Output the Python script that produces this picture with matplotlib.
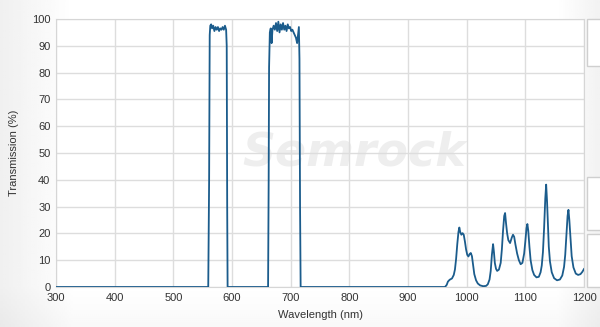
import numpy as np
import matplotlib.pyplot as plt
from matplotlib.patches import Rectangle

plt.rcParams['font.family'] = ['Liberation Sans', 'DejaVu Sans']

# transmission spectrum (nm, %)
band1_nm = [559.5, 561, 562, 563, 564.5, 566, 568, 570, 572, 574, 576, 578,
            580, 582, 584, 586, 588, 590, 591, 591.8, 592.5]
band1_t = [0, 40, 94, 97.5, 98, 96.5, 97.5, 95.5, 97, 96, 97, 95.5,
           96.5, 96, 97, 96, 97.5, 96, 90, 30, 0]

band2_nm = [661.5, 662.5, 663.2, 664.5, 666, 667.5, 669, 671, 673, 675, 677,
            679, 681, 683, 685, 687, 689, 691, 693, 695, 697, 699, 701, 703,
            705, 707, 709, 711, 712.5, 714, 715, 716, 717]
band2_t = [0, 40, 82, 95, 96.5, 91, 96, 97.5, 96, 98.5, 95.5,
           99, 95, 98, 96, 98.5, 96, 97.5, 95.5, 98, 96.5, 97, 95.5, 96,
           95, 94, 93, 91, 94, 97, 85, 30, 0]

ir_nm = [963, 966, 968, 971, 975, 978, 980, 982, 984, 986, 987.5, 989, 991,
         993, 995, 997, 999, 1001, 1003, 1005, 1007, 1009, 1011, 1013, 1016,
         1019, 1023, 1028, 1033, 1036, 1039, 1041, 1043, 1045, 1046.5, 1048,
         1050, 1052, 1055, 1058, 1060, 1062, 1064, 1065.5, 1067, 1069, 1071,
         1074, 1077, 1079, 1081, 1083, 1086, 1089, 1092, 1095, 1098, 1100,
         1102, 1103.5, 1105, 1107, 1109, 1112, 1115, 1119, 1123, 1126, 1128,
         1130, 1132, 1134, 1135.5, 1137, 1138.5, 1140, 1142, 1145, 1149, 1154,
         1159, 1163, 1166, 1168, 1170, 1172, 1173.5, 1175, 1177, 1179, 1182,
         1186, 1190, 1194, 1197, 1200]
ir_t = [0, 0.8, 2.0, 2.7, 3.2, 4.5, 6.5, 10.5, 16, 20.5, 22.2, 20.5, 19.5,
        20.1, 19.5, 17, 14, 12, 11.4, 12.3, 12.7, 11.5, 8, 4.8, 2.5,
        1.3, 0.6, 0.3, 0.4, 1.0, 2.8, 6, 12, 16, 13, 9,
        6.8, 6.0, 6.5, 9, 14, 21, 26.5, 27.6, 24, 20, 17.5,
        16.4, 18.5, 19.5, 18.7, 16, 12.5, 10, 8.5, 9, 12.5, 17,
        22, 23.5, 21, 15, 10, 6.3, 4.5, 3.6, 3.8, 5.5, 8,
        13, 22, 33, 38.2, 32, 24, 15, 9.5, 5.5, 3.3, 2.5,
        2.8, 4.3, 7.5, 12, 19, 26.5, 28.8, 25, 18, 11.5, 7.3,
        5.0, 4.5, 4.8, 5.6, 6.7]

wl = np.array([300] + band1_nm + band2_nm + ir_nm)
tr = np.array([0] + band1_t + band2_t + ir_t)

xticks = np.arange(300, 1201, 100)
yticks = np.arange(0, 101, 10)

fig = plt.figure(figsize=(6, 3.27), dpi=100)

# soft grey page background
bg = fig.add_axes([0, 0, 1, 1], zorder=-10)
gx = np.linspace(0, 1, 300)
gy = np.linspace(0, 1, 160)
GX, GY = np.meshgrid(gx, gy)
shade = (1 - 0.06 * np.clip(1 - GX / 0.12, 0, 1)
         - 0.05 * np.clip((GX - 0.93) / 0.07, 0, 1)
         - 0.025 * np.clip(1 - GY / 0.12, 0, 1))
bg.imshow(shade, cmap='gray', vmin=0, vmax=1, aspect='auto',
          extent=[0, 1, 0, 1], origin='lower')
bg.axis('off')

# cut-off legend panels on the right
for y0, y1 in [(19, 66), (177, 230), (234, 287)]:
    fig.patches.append(Rectangle((587 / 600, 1 - y1 / 327), 0.05, (y1 - y0) / 327,
                                 transform=fig.transFigure, facecolor='white',
                                 edgecolor='#cfcfcf', lw=1, zorder=-5))

ax = fig.add_axes([56 / 600, 40 / 327, 528 / 600, 268 / 327])
ax.set_facecolor('white')

# faint watermark
ax.text(0.565, 0.5, 'Semrock', transform=ax.transAxes, fontsize=33,
        fontweight='bold', style='italic', color='#eeeeee',
        ha='center', va='center', zorder=0.5, family='DejaVu Sans')

ax.plot(wl, tr, color='#1b5c8c', lw=1.3, zorder=3)

ax.set_xlim(300, 1200)
ax.set_ylim(0, 100)
ax.set_xticks(xticks)
ax.set_yticks(yticks)
ax.grid(True, color='#dddddd', lw=1)
ax.set_axisbelow(True)
for s in ax.spines.values():
    s.set_color('#d6d6d6')
ax.tick_params(length=0, labelsize=8, colors='#333333', pad=4)
ax.set_xlabel('Wavelength (nm)', fontsize=8, color='#333333', labelpad=5)
ax.set_ylabel('Transmission (%)', fontsize=8, color='#333333', labelpad=9)

fig.savefig('out.png', dpi=100)
